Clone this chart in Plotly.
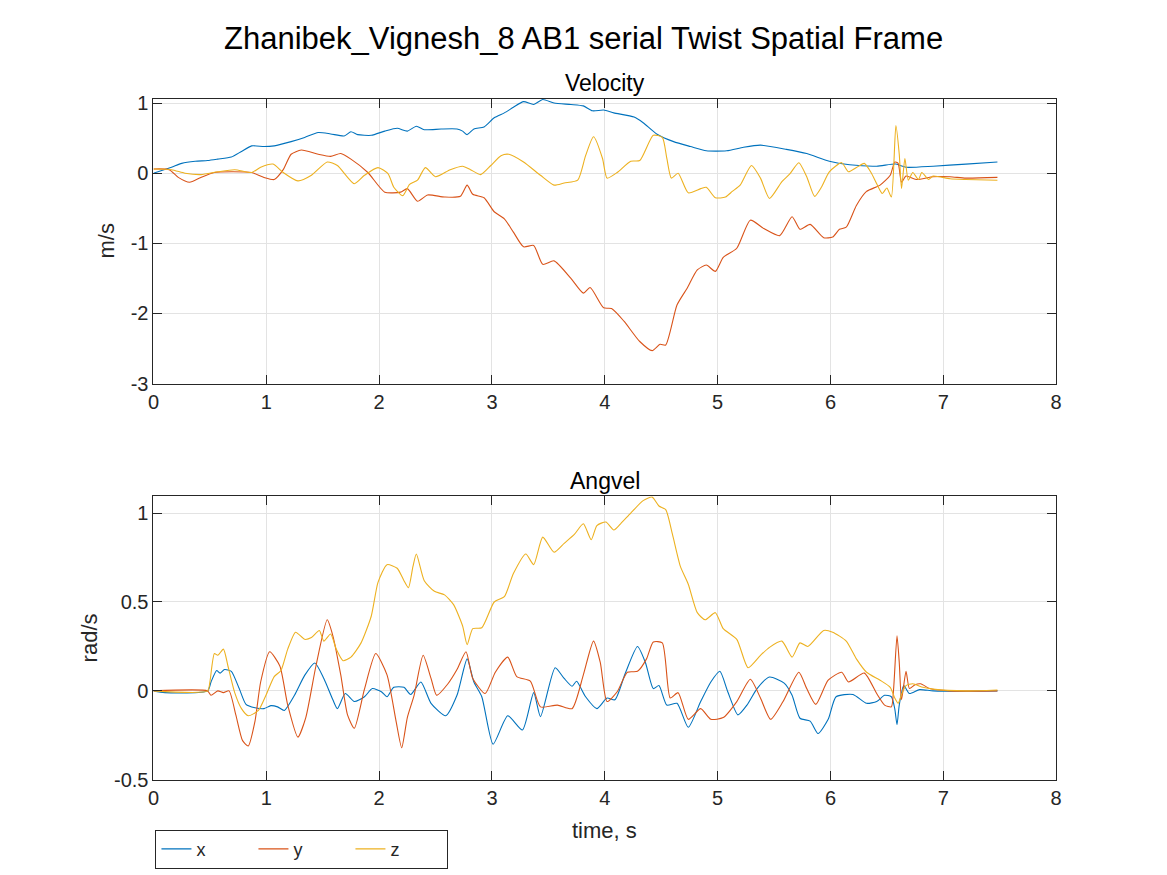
import plotly.graph_objects as go

# Velocity (m/s)
vx_t = [0, 0.16, 0.25, 0.37, 0.48, 0.57, 0.69, 0.78, 0.87, 0.98, 1.07, 1.22, 1.34, 1.46, 1.57, 1.69, 1.75,
        1.81, 1.93, 2.05, 2.16, 2.25, 2.33, 2.40, 2.55, 2.69, 2.74, 2.78, 2.84, 2.93, 3.02, 3.11, 3.19, 3.28,
        3.37, 3.45, 3.55, 3.70, 3.81, 3.89, 3.99, 4.08, 4.26, 4.34, 4.46, 4.61, 4.76, 4.90, 5.08, 5.23, 5.38,
        5.61, 5.79, 5.99, 6.17, 6.41, 6.58, 6.67, 6.91, 7.20, 7.48]
vx = [0, 0.085, 0.14, 0.17, 0.18, 0.20, 0.23, 0.31, 0.39, 0.38, 0.39, 0.45, 0.51, 0.58, 0.56, 0.53, 0.59,
      0.55, 0.54, 0.60, 0.64, 0.60, 0.67, 0.62, 0.63, 0.63, 0.60, 0.55, 0.63, 0.66, 0.79, 0.86, 0.94, 1.02,
      0.98, 1.05, 1.00, 0.98, 0.96, 0.89, 0.90, 0.86, 0.80, 0.72, 0.56, 0.45, 0.38, 0.32, 0.32, 0.37, 0.40,
      0.34, 0.28, 0.17, 0.12, 0.10, 0.13, 0.085, 0.10, 0.13, 0.16]

vy_t = [0, 0.14, 0.22, 0.32, 0.42, 0.54, 0.69, 0.87, 0.98, 1.07, 1.15, 1.22, 1.31, 1.46, 1.57, 1.66, 1.75,
        1.90, 2.05, 2.19, 2.25, 2.34, 2.43, 2.58, 2.72, 2.78, 2.83, 2.93, 3.02, 3.11, 3.19, 3.28, 3.37, 3.45,
        3.55, 3.70, 3.81, 3.87, 3.99, 4.06, 4.17, 4.31, 4.42, 4.49, 4.54, 4.64, 4.73, 4.82, 4.90, 4.98, 5.05,
        5.17, 5.29, 5.41, 5.55, 5.66, 5.73, 5.82, 5.94, 6.02, 6.08, 6.14, 6.23, 6.32, 6.44, 6.53, 6.57, 6.60,
        6.63, 6.67, 6.76, 6.91, 7.06, 7.20, 7.48]
vy = [0.06, 0.05, -0.06, -0.13, -0.06, 0.01, 0.02, 0.01, -0.06, -0.09, 0.05, 0.27, 0.33, 0.27, 0.24, 0.28,
      0.20, 0.01, -0.27, -0.27, -0.22, -0.40, -0.31, -0.34, -0.33, -0.17, -0.30, -0.35, -0.55, -0.65, -0.84,
      -1.05, -1.03, -1.30, -1.25, -1.50, -1.71, -1.63, -1.92, -1.93, -2.11, -2.40, -2.53, -2.44, -2.45, -1.88,
      -1.64, -1.38, -1.31, -1.40, -1.20, -1.07, -0.67, -0.79, -0.89, -0.62, -0.80, -0.73, -0.92, -0.91, -0.80,
      -0.77, -0.46, -0.26, -0.17, -0.03, 0.16, 0.14, -0.13, -0.04, -0.09, -0.05, -0.05, -0.07, -0.06]

vz_t = [0, 0.16, 0.28, 0.42, 0.57, 0.72, 0.87, 0.95, 1.06, 1.15, 1.28, 1.40, 1.54, 1.63, 1.78, 1.87, 1.99,
        2.08, 2.13, 2.21, 2.27, 2.34, 2.41, 2.50, 2.63, 2.74, 2.81, 2.90, 2.99, 3.08, 3.15, 3.28, 3.43, 3.55,
        3.64, 3.76, 3.83, 3.90, 3.98, 4.02, 4.11, 4.23, 4.31, 4.43, 4.51, 4.55, 4.59, 4.65, 4.74, 4.85, 4.90,
        4.98, 5.07, 5.13, 5.20, 5.30, 5.38, 5.46, 5.57, 5.64, 5.72, 5.79, 5.86, 5.92, 5.99, 6.10, 6.16, 6.23,
        6.30, 6.36, 6.41, 6.46, 6.50, 6.54, 6.58, 6.61, 6.63, 6.66, 6.69, 6.73, 6.78, 6.81, 6.87, 6.91, 7.06,
        7.20, 7.48]
vz = [0.06, 0.05, 0.0, -0.02, 0.02, 0.05, 0.01, 0.085, 0.13, 0.01, -0.11, -0.03, 0.16, 0.11, -0.15, -0.03,
      0.08, -0.01, -0.20, -0.32, -0.16, -0.10, 0.08, -0.05, 0.05, 0.10, 0.05, -0.02, 0.11, 0.25, 0.27, 0.16,
      -0.03, -0.17, -0.14, -0.10, 0.25, 0.52, 0.21, -0.07, 0.01, 0.17, 0.18, 0.54, 0.51, 0.21, -0.07, 0.0,
      -0.28, -0.22, -0.20, -0.35, -0.34, -0.26, -0.17, 0.11, -0.07, -0.36, -0.12, -0.01, 0.15, -0.05, -0.33,
      -0.20, 0.02, 0.15, 0.02, 0.08, 0.14, 0.01, -0.15, -0.29, -0.21, -0.34, 0.68, 0.27, -0.22, 0.21, -0.10,
      0.01, -0.09, 0.01, -0.09, -0.04, -0.08, -0.09, -0.10]

# Angular velocity (rad/s)
wx_t = [0, 0.10, 0.48, 0.51, 0.56, 0.59, 0.63, 0.69, 0.76, 0.82, 0.90, 0.98, 1.04, 1.10, 1.16, 1.25, 1.34,
        1.43, 1.51, 1.59, 1.63, 1.70, 1.78, 1.87, 1.94, 2.02, 2.07, 2.13, 2.22, 2.28, 2.37, 2.46, 2.59, 2.69,
        2.78, 2.84, 2.91, 3.01, 3.14, 3.27, 3.37, 3.43, 3.56, 3.64, 3.71, 3.75, 3.83, 3.93, 4.02, 4.09, 4.18,
        4.29, 4.36, 4.43, 4.48, 4.55, 4.64, 4.74, 4.85, 4.94, 5.02, 5.09, 5.18, 5.26, 5.35, 5.46, 5.59, 5.66,
        5.73, 5.82, 5.89, 5.98, 6.05, 6.20, 6.32, 6.41, 6.48, 6.54, 6.57, 6.59, 6.61, 6.65, 6.70, 6.79, 6.91,
        7.20, 7.48]
wx = [0, -0.01, 0.0, 0.05, 0.115, 0.10, 0.12, 0.11, 0.013, -0.076, -0.095, -0.10, -0.083, -0.09, -0.11,
      -0.025, 0.087, 0.157, 0.07, -0.05, -0.10, -0.015, -0.06, -0.033, 0.013, -0.005, -0.033, 0.02, 0.02,
      -0.02, 0.05, -0.07, -0.14, -0.025, 0.18, 0.05, -0.033, -0.30, -0.14, -0.22, -0.01, -0.145, 0.13, 0.07,
      0.026, 0.054, -0.033, -0.10, -0.04, -0.05, 0.096, 0.25, 0.16, 0.013, 0.03, -0.08, -0.07, -0.205, -0.06,
      0.05, 0.11, -0.005, -0.135, -0.08, 0.013, 0.078, 0.044, -0.025, -0.154, -0.17, -0.24, -0.16, -0.033,
      -0.02, -0.07, -0.06, -0.025, -0.033, -0.10, -0.19, -0.08, 0.03, -0.015, 0.007, 0.0, -0.002, 0.0]

wy_t = [0, 0.48, 0.51, 0.57, 0.62, 0.67, 0.73, 0.79, 0.84, 0.90, 0.95, 1.03, 1.12, 1.19, 1.28, 1.35, 1.44,
        1.54, 1.59, 1.66, 1.72, 1.78, 1.87, 1.97, 2.07, 2.15, 2.20, 2.25, 2.31, 2.39, 2.46, 2.51, 2.61, 2.69,
        2.77, 2.83, 2.94, 3.03, 3.14, 3.22, 3.34, 3.43, 3.58, 3.71, 3.81, 3.90, 3.96, 4.02, 4.11, 4.20, 4.29,
        4.37, 4.43, 4.51, 4.58, 4.65, 4.74, 4.85, 4.94, 5.05, 5.17, 5.29, 5.38, 5.47, 5.58, 5.72, 5.79, 5.87,
        5.98, 6.10, 6.16, 6.30, 6.41, 6.48, 6.54, 6.56, 6.59, 6.61, 6.63, 6.67, 6.70, 6.75, 6.80, 6.88, 7.05,
        7.48]
wy = [0, 0.0, -0.025, 0.0, -0.01, 0.0, -0.135, -0.28, -0.31, -0.17, 0.05, 0.22, 0.14, -0.08, -0.26, -0.15,
      0.14, 0.40, 0.31, 0.09, -0.135, -0.21, 0.01, 0.21, 0.09, -0.17, -0.32, -0.15, -0.025, 0.20, 0.07,
      -0.025, 0.04, 0.12, 0.22, 0.07, -0.015, 0.105, 0.19, 0.08, 0.055, -0.09, -0.08, -0.10, 0.09, 0.28,
      0.16, -0.06, -0.005, 0.105, 0.11, 0.18, 0.275, 0.27, -0.04, -0.01, -0.16, -0.10, -0.16, -0.15, -0.06,
      0.065, -0.04, -0.16, -0.06, 0.105, 0.013, -0.076, 0.06, 0.105, 0.05, 0.10, -0.015, -0.08, -0.09, 0.013,
      0.31, 0.16, -0.05, 0.11, 0.013, 0.035, 0.04, 0.013, 0.0, 0.0]

wz_t = [0, 0.48, 0.50, 0.54, 0.57, 0.62, 0.66, 0.72, 0.78, 0.84, 0.93, 1.00, 1.07, 1.13, 1.19, 1.26, 1.34,
        1.40, 1.47, 1.51, 1.57, 1.62, 1.68, 1.75, 1.84, 1.93, 1.99, 2.07, 2.16, 2.22, 2.26, 2.30, 2.33, 2.40,
        2.49, 2.58, 2.66, 2.74, 2.78, 2.83, 2.91, 3.02, 3.11, 3.19, 3.30, 3.37, 3.45, 3.55, 3.64, 3.73, 3.81,
        3.88, 3.93, 4.01, 4.08, 4.14, 4.23, 4.34, 4.42, 4.48, 4.54, 4.60, 4.67, 4.74, 4.82, 4.89, 4.98, 5.05,
        5.17, 5.27, 5.38, 5.46, 5.57, 5.66, 5.73, 5.80, 5.94, 6.02, 6.14, 6.23, 6.32, 6.44, 6.53, 6.57, 6.60,
        6.63, 6.67, 6.73, 6.82, 6.91, 7.20, 7.48]
wz = [0, 0.0, 0.05, 0.21, 0.20, 0.235, 0.14, -0.01, -0.10, -0.14, -0.11, -0.02, 0.08, 0.115, 0.235, 0.33,
      0.29, 0.30, 0.34, 0.28, 0.32, 0.235, 0.17, 0.19, 0.27, 0.42, 0.61, 0.71, 0.69, 0.62, 0.58, 0.70, 0.77,
      0.62, 0.56, 0.54, 0.485, 0.365, 0.26, 0.35, 0.355, 0.50, 0.53, 0.66, 0.77, 0.71, 0.865, 0.78, 0.83, 0.88,
      0.94, 0.85, 0.93, 0.95, 0.905, 0.94, 1.0, 1.07, 1.09, 1.04, 1.02, 0.88, 0.70, 0.60, 0.44, 0.40, 0.44,
      0.35, 0.29, 0.13, 0.20, 0.245, 0.28, 0.19, 0.27, 0.25, 0.34, 0.33, 0.28, 0.18, 0.105, 0.06, 0.02, -0.04,
      -0.07, -0.02, 0.03, 0.04, 0.02, 0.01, 0.0, 0.005]

v_ticks = [-3, -2, -1, 0, 1]
w_ticks = [-0.5, 0, 0.5, 1]
w_labels = ["-0.5", "0", "0.5", "1"]

blue, red, yellow = "#0072BD", "#D95319", "#EDB120"
font = "Liberation Sans, Arial, sans-serif"
W, H = 1167, 875


def px(x):
    return x / W


def py(y):
    return 1 - y / H


fig = go.Figure()
line_kw = dict(width=1.1, shape="spline", smoothing=0.6)
fig.add_trace(go.Scatter(x=vx_t, y=vx, mode="lines", line=dict(color=blue, **line_kw), name="x", xaxis="x", yaxis="y"))
fig.add_trace(go.Scatter(x=vy_t, y=vy, mode="lines", line=dict(color=red, **line_kw), name="y", xaxis="x", yaxis="y"))
fig.add_trace(go.Scatter(x=vz_t, y=vz, mode="lines", line=dict(color=yellow, **line_kw), name="z", xaxis="x", yaxis="y"))
fig.add_trace(go.Scatter(x=wx_t, y=wx, mode="lines", line=dict(color=blue, **line_kw), showlegend=False, xaxis="x2", yaxis="y2"))
fig.add_trace(go.Scatter(x=wy_t, y=wy, mode="lines", line=dict(color=red, **line_kw), showlegend=False, xaxis="x2", yaxis="y2"))
fig.add_trace(go.Scatter(x=wz_t, y=wz, mode="lines", line=dict(color=yellow, **line_kw), showlegend=False, xaxis="x2", yaxis="y2"))

ax = dict(showline=True, mirror="ticks", linecolor="#262626", linewidth=1, ticks="inside", ticklen=9,
          tickcolor="#262626", showgrid=True, gridcolor="#E3E3E3", zeroline=False,
          tickfont=dict(size=20, color="#262626"))
xd = [px(149), px(1061)]
fig.update_layout(
    autosize=True, margin=dict(l=0, r=0, t=0, b=0),
    paper_bgcolor="white", plot_bgcolor="white",
    font=dict(family=font, color="#262626"),
    xaxis=dict(ax, domain=xd, range=[0, 8], dtick=1, anchor="y"),
    yaxis=dict(ax, domain=[py(384.5), py(94)], range=[-3, 1.057], tickvals=v_ticks,
               ticktext=[str(v) for v in v_ticks], anchor="x"),
    xaxis2=dict(ax, domain=xd, range=[0, 8], dtick=1, anchor="y2"),
    yaxis2=dict(ax, domain=[py(789), py(499.5)], range=[-0.5, 1.095], tickvals=w_ticks,
                ticktext=w_labels, anchor="x2"),
    legend=dict(orientation="h", x=px(151), y=py(840), xanchor="left", yanchor="top",
                bordercolor="#262626", borderwidth=1, font=dict(size=18), entrywidth=52,
                tracegroupgap=0),
    annotations=[
        dict(text="Zhanibek_Vignesh_8 AB1 serial Twist Spatial Frame", x=px(583.5), y=py(32),
             font=dict(size=31, color="black")),
        dict(text="Velocity", x=px(605), y=py(78), font=dict(size=23, color="black")),
        dict(text="Angvel", x=px(605), y=py(484), font=dict(size=23, color="black")),
        dict(text="m/s", x=px(101.5), y=py(239), textangle=-90, font=dict(size=22)),
        dict(text="rad/s", x=px(84.5), y=py(644), textangle=-90, font=dict(size=22)),
        dict(text="time, s", x=px(605), y=py(841), font=dict(size=22)),
    ],
)
fig.update_annotations(xref="paper", yref="paper", xanchor="center", yanchor="middle", showarrow=False)

fit_page = ("document.documentElement.style.height='100%';"
            "document.body.style.height='100%';"
            "document.body.style.margin='0';"
            "document.body.style.overflow='hidden';"
            "Plotly.Plots.resize(document.getElementById('{plot_id}'));")
fig.write_html("out.html", config={"displayModeBar": False}, post_script=fit_page)
